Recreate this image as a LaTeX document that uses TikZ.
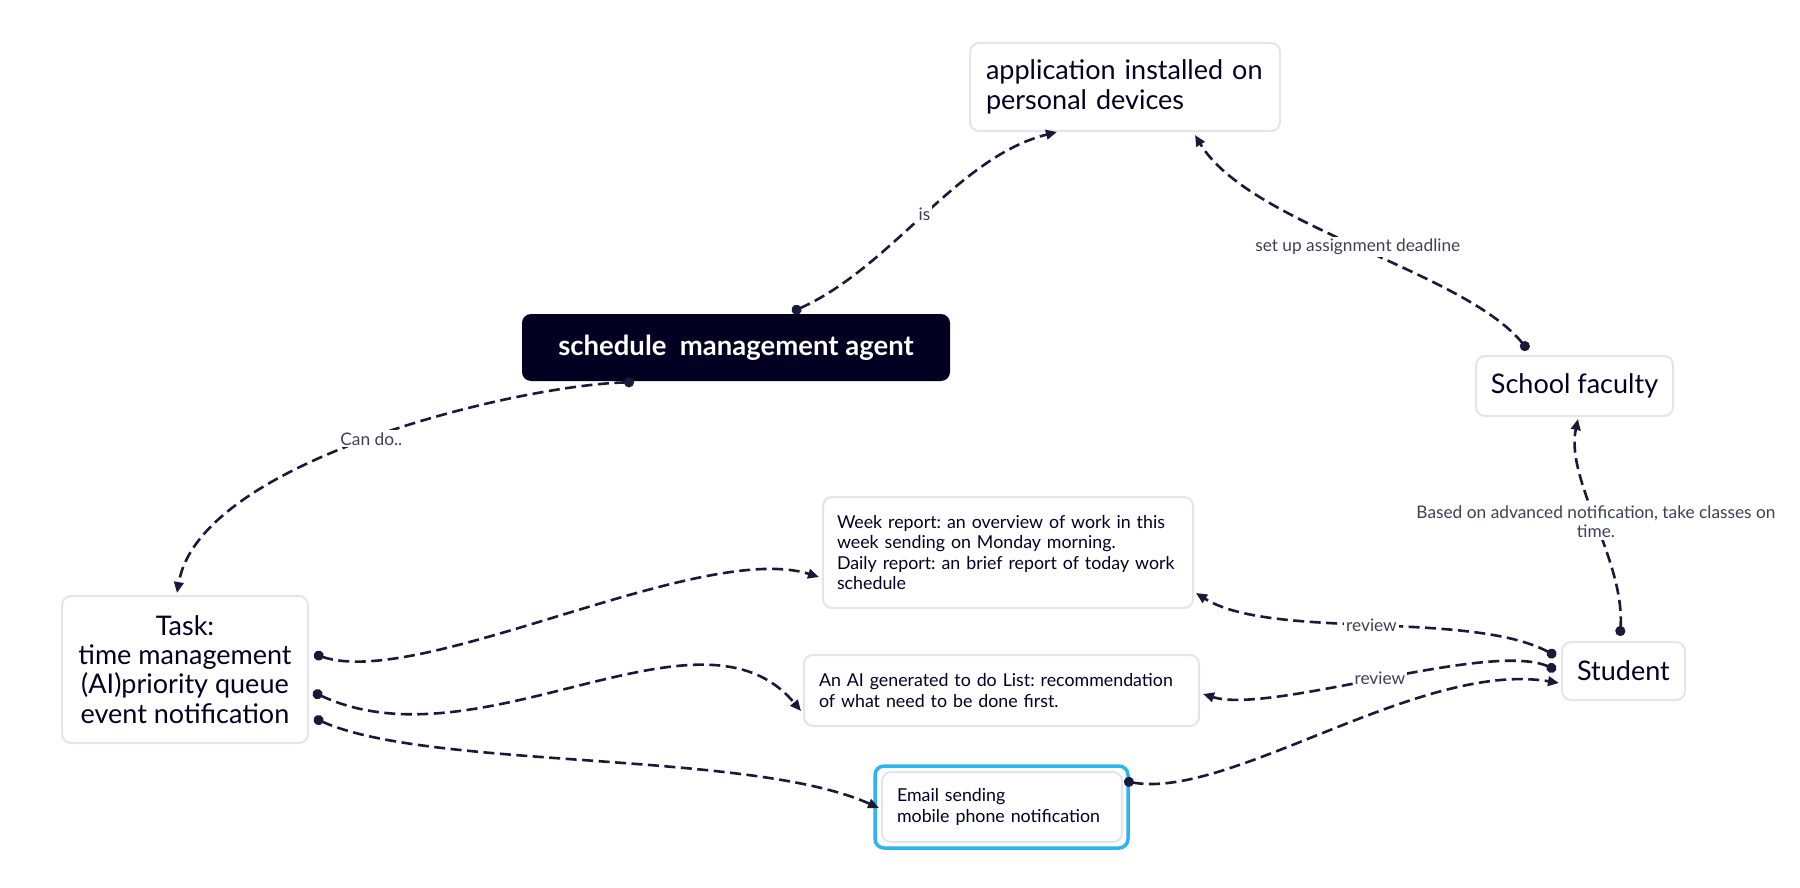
\documentclass[tikz,border=0pt]{standalone}
\usepackage{fontspec}
\setmainfont{Lato}
\usetikzlibrary{arrows.meta}
\definecolor{navy}{HTML}{020122}
\definecolor{wire}{HTML}{1A1A38}
\definecolor{boxline}{HTML}{E4E4EA}
\definecolor{lbl}{HTML}{3F3F55}
\definecolor{sky}{HTML}{2EB4F0}
\frenchspacing
\begin{document}
\begin{tikzpicture}[x=1pt,y=-1pt,
  box/.style={draw=boxline, line width=2pt, rounded corners=9pt, fill=white, text=navy, inner ysep=0pt},
  bigtext/.style={font=\fontsize{27}{29.3}\selectfont},
  bodytext/.style={font=\fontsize{17.8}{20.3}\selectfont},
  conn/.style={draw=wire, line width=2.6pt, dash pattern=on 11pt off 5.5pt,
    {Circle[length=10pt]}-{Triangle[length=11pt,width=9.5pt]}},
  lab/.style={fill=white, text=lbl, font=\fontsize{17.3}{19.5}\selectfont, inner sep=2pt}
]
\useasboundingbox (0,0) rectangle (1800,888);

% nodes
\node[box, bigtext, text width=278pt, inner xsep=16pt, minimum height=88pt, align=left]
  (app) at (1125,87) {application installed on\\personal devices};
\node[fill=navy, rounded corners=9pt, text=white, font=\fontsize{27.5}{29}\selectfont\bfseries,
  minimum width=428pt, minimum height=67pt, inner sep=0pt]
  (agent) at (736,347.5) {schedule\ \ management agent};
\node[box, bigtext, minimum width=197pt, minimum height=60pt, inner xsep=0pt]
  (faculty) at (1574.5,386) {School faculty};
\node[box, bigtext, minimum width=123pt, minimum height=58pt, inner xsep=0pt]
  (student) at (1623.5,671) {Student};
\node[box, bigtext, minimum width=246pt, minimum height=147pt, align=center, inner xsep=0pt]
  (task) at (185,669.5) {Task:\\time management\\(AI)priority queue\\event notification};
\node[box, bodytext, text width=342pt, inner xsep=14pt, minimum height=111pt, align=left]
  (week) at (1008,552.5) {Week report: an overview of work in this\\week sending on Monday morning.\\Daily report: an brief report of today work\\schedule};
\node[box, bodytext, text width=365pt, inner xsep=15pt, minimum height=71pt, align=left]
  (ai) at (1001.5,690.5) {An AI generated to do List: recommendation\\of what need to be done first.};
\node[draw=sky, line width=3.5pt, rounded corners=9pt, minimum width=253pt, minimum height=82pt, inner sep=0pt]
  (emailsel) at (1001.5,807) {};
\node[box, bodytext, text width=210pt, inner xsep=15pt, minimum height=70pt, align=left]
  (email) at (1002,807) {Email sending\\mobile phone notification};

% connectors
\draw[conn] ([xshift=56pt,yshift=2pt]agent.north)
  .. controls (892,267) and (957,157) .. ([xshift=-68pt]app.south)
  node[lab, pos=0.5] {is};
\draw[conn] ([xshift=-46.5pt,yshift=5pt]faculty.north)
  .. controls (1464,271) and (1249,225) .. ([xshift=70pt,yshift=-3pt]app.south)
  node[lab, pos=0.5] {set up assignment deadline};
\draw[conn] ([xshift=-102pt,yshift=-1pt]agent.south)
  .. controls (520,385) and (200,460) .. ([xshift=-8pt,yshift=2pt]task.north)
  node[lab, pos=0.5] {Can do..};
\draw[conn] ([xshift=-3.5pt,yshift=5pt]student.north)
  .. controls (1625,560) and (1565,480) .. ([xshift=3.5pt,yshift=-2pt]faculty.south)
  node[lab, pos=0.5, align=center] {Based on advanced notification, take classes on\\time.};
\draw[conn] ([xshift=5pt,yshift=15.5pt]task.east)
  .. controls (420,690) and (700,540) .. ([xshift=-3pt,yshift=-24.5pt]week.west);
\draw[conn] ([xshift=4pt,yshift=-22.5pt]task.east)
  .. controls (480,770) and (700,590) .. ([xshift=-2pt,yshift=-20.5pt]ai.west);
\draw[conn] ([xshift=5pt,yshift=-48.5pt]task.east)
  .. controls (430,770) and (750,750) .. ([xshift=-2pt,yshift=-1pt]email.west);
\draw[conn] ([xshift=-5pt,yshift=15pt]student.west)
  .. controls (1470,610) and (1270,640) .. ([xshift=2pt,yshift=16pt]week.south east)
  node[lab, pos=0.5] {review};
\draw[conn] ([xshift=-5pt,yshift=1pt]student.west)
  .. controls (1490,640) and (1270,715) .. ([xshift=3pt,yshift=-3.5pt]ai.east)
  node[lab, pos=0.5] {review};
\draw[conn] ([xshift=1pt,yshift=-10pt]email.north east)
  .. controls (1230,800) and (1420,660) .. ([xshift=-2pt,yshift=-12pt]student.west);
\end{tikzpicture}
\end{document}
